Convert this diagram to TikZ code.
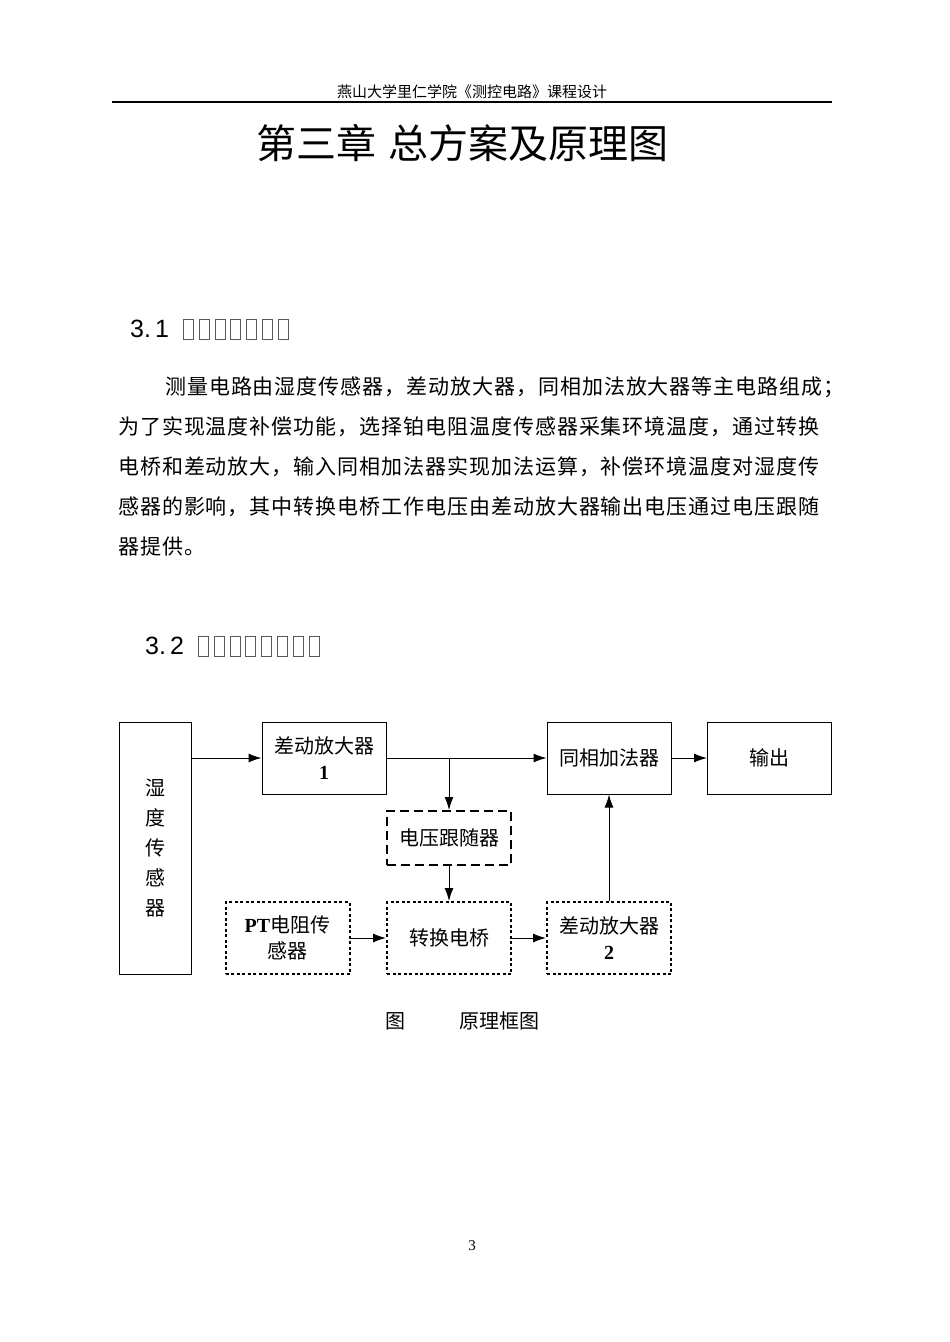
\documentclass[tikz,border=0pt]{standalone}
\usepackage{fontspec}
\usetikzlibrary{arrows.meta}
\setmainfont{Liberation Serif}
\newfontfamily\cjk{Noto Sans CJK SC}
\newfontfamily\cjksp[LetterSpace=4.5]{Noto Sans CJK SC}
\newfontfamily\hsans{Liberation Sans}
\newcommand{\gbox}{\tikz[baseline=0pt]\draw[line width=0.8pt,gray!70!black] (0,-2pt) rectangle (10pt,18pt);\hspace{5pt}}
\begin{document}
\begin{tikzpicture}[x=1pt,y=-1pt,
  blk/.style={draw,line width=1pt,minimum width=124pt,minimum height=72pt,inner sep=2pt,align=center,font=\fontsize{20}{26}\selectfont\cjk},
  dsh/.style={blk,dashed,line width=2pt,dash pattern=on 9pt off 5pt},
  dot/.style={blk,line width=2pt,dash pattern=on 3pt off 2.5pt},
  arr/.style={-{Latex[length=13pt,width=9pt]},line width=1pt},
  para/.style={anchor=base west,inner sep=0,font=\fontsize{21}{21}\selectfont\cjksp}]
\useasboundingbox (0,0) rectangle (950,1342);
\fill[white] (0,0) rectangle (950,1342);
\node[font=\fontsize{15}{15}\selectfont\cjk,anchor=base] (hdr) at (472,97) {燕山大学里仁学院《测控电路》课程设计};
\draw[line width=2pt] (112,102) -- (832,102);
\node[font=\fontsize{40}{40}\selectfont\cjk,anchor=base] (ttl) at (462,158) {第三章\hspace{12pt}总方案及原理图};
\node[anchor=base west,inner sep=0,font=\fontsize{25}{25}\selectfont\hsans] (h1) at (130,337) {3.\hspace{4pt}1\hspace{14pt}\gbox\gbox\gbox\gbox\gbox\gbox\gbox};
\node[para] (p1) at (165,394) {测量电路由湿度传感器，差动放大器，同相加法放大器等主电路组成；};
\node[para] (p2) at (118,434) {为了实现温度补偿功能，选择铂电阻温度传感器采集环境温度，通过转换};
\node[para] (p3) at (118,474) {电桥和差动放大，输入同相加法器实现加法运算，补偿环境温度对湿度传};
\node[para] (p4) at (118,514) {感器的影响，其中转换电桥工作电压由差动放大器输出电压通过电压跟随};
\node[para] (p5) at (118,554) {器提供。};
\node[anchor=base west,inner sep=0,font=\fontsize{25}{25}\selectfont\hsans] (h2) at (145,654) {3.\hspace{4pt}2\hspace{14pt}\gbox\gbox\gbox\gbox\gbox\gbox\gbox\gbox};
% diagram
\node[blk,minimum width=72pt,minimum height=252pt,text width=24pt] (hum) at (155,848) {湿\\[4pt]度\\[4pt]传\\[4pt]感\\[4pt]器};
\node[blk] (da1) at (324,758) {差动放大器\\{\rmfamily\bfseries 1}};
\node[blk] (sum) at (609,758) {同相加法器};
\node[blk] (out) at (769.5,758) {输出};
\node[dsh,minimum height=54pt] (vf) at (449,838) {电压跟随器};
\node[dot] (pt) at (287.5,938) {{\rmfamily\bfseries PT}电阻传\\感器};
\node[dot] (br) at (449,938) {转换电桥};
\node[dot] (da2) at (609,938) {差动放大器\\{\rmfamily\bfseries 2}};
\draw[arr] (hum.east|-da1) -- (da1.west);
\draw[arr] (da1.east) -- (sum.west);
\draw[arr] (sum.east) -- (out.west);
\coordinate (br1) at (vf.north|-da1);
\draw[arr] (br1) -- (vf.north);
\draw[arr] (vf.south) -- (br.north);
\draw[arr] (pt.east) -- (br.west);
\draw[arr] (br.east) -- (da2.west);
\draw[arr] (da2.north) -- (sum.south);
\node[font=\fontsize{20}{20}\selectfont\cjk,anchor=base] (cap1) at (395,1028) {图};
\node[font=\fontsize{20}{20}\selectfont\cjk,anchor=base] (cap2) at (499,1028) {原理框图};
\node[font=\fontsize{15}{15}\selectfont,anchor=base] (pg) at (472,1250) {3};
\end{tikzpicture}
\end{document}
